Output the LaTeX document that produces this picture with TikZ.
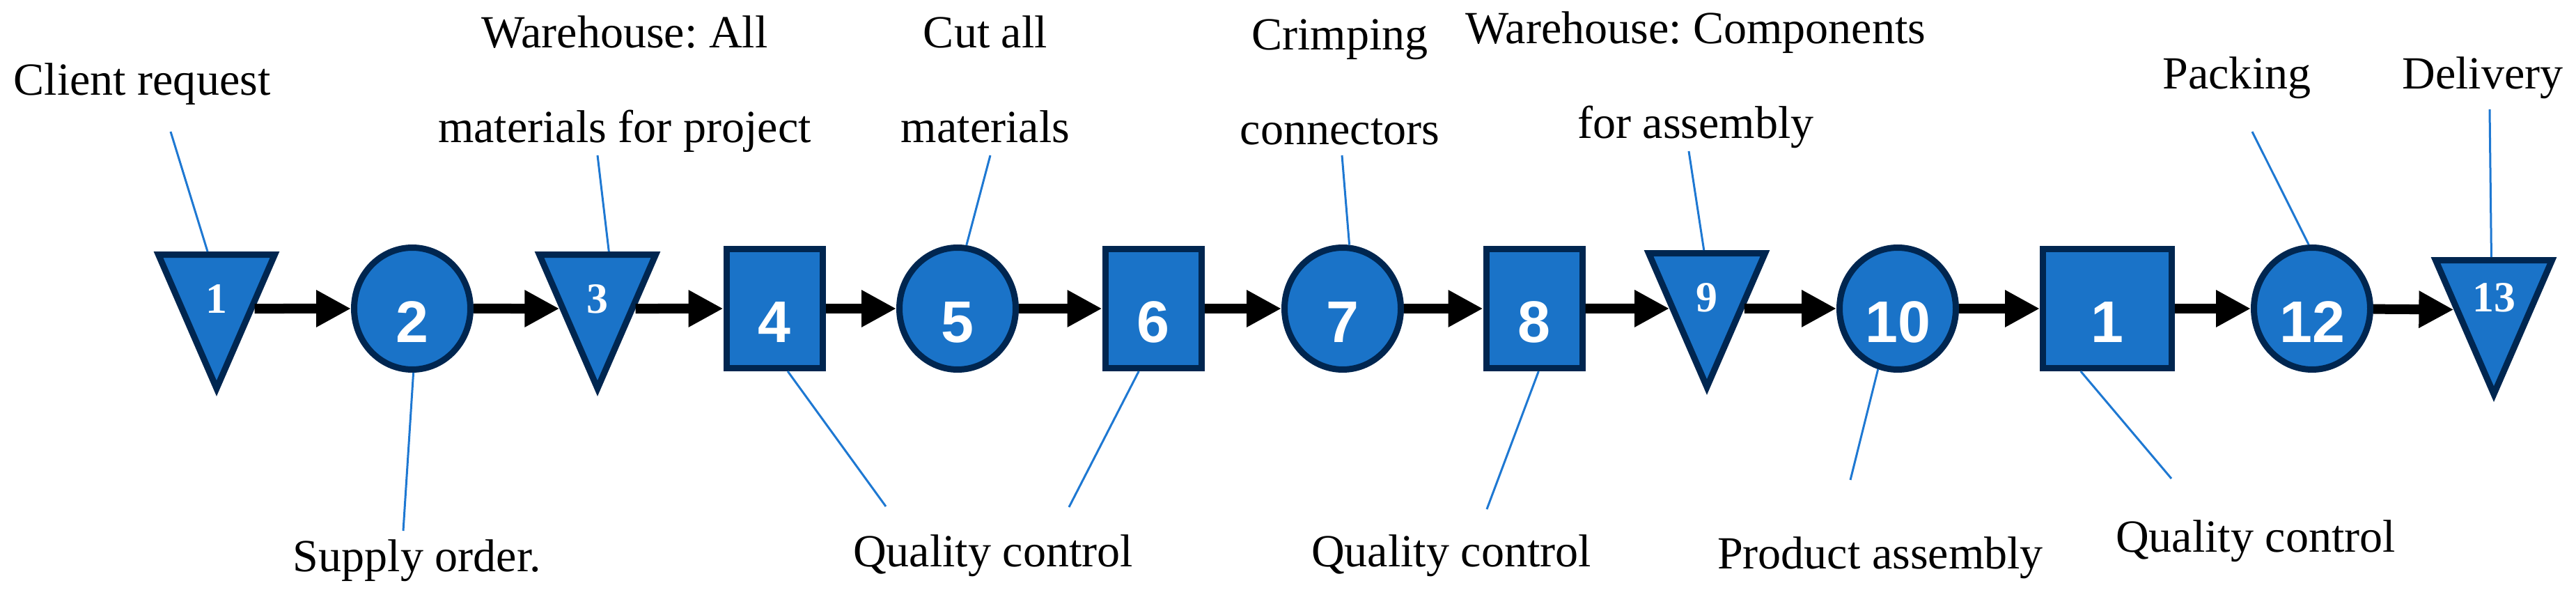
\documentclass[tikz,border=0pt]{standalone}
\usepackage{fontspec}
\setmainfont{Liberation Serif}
\newfontfamily\digitfont{Liberation Sans}
\frenchspacing
\usetikzlibrary{shapes.geometric,arrows.meta}
\definecolor{stepblue}{RGB}{26,115,200}
\definecolor{stepnavy}{RGB}{0,38,80}
\definecolor{calloutblue}{RGB}{30,120,210}
\begin{document}
\begin{tikzpicture}[
  stepbox/.style={draw=stepnavy, fill=stepblue, line width=0.09cm, text=white, inner sep=0pt},
  bignum/.style={font=\digitfont\bfseries\fontsize{24}{24}\selectfont, text height=0.98cm, text depth=0pt},
  opn/.style={stepbox, bignum, ellipse, minimum width=1.67cm, minimum height=1.75cm},
  insp/.style={stepbox, bignum, rectangle, minimum width=1.38cm, minimum height=1.71cm},
  store/.style={stepbox, isosceles triangle, shape border rotate=270, isosceles triangle apex angle=47,
    minimum height=1.92cm, font=\bfseries\fontsize{17.6}{17.6}\selectfont, text height=0.55cm, text depth=0pt},
  flow/.style={line width=0.14cm, -{Triangle[length=0.5cm,width=0.5cm]}},
  callout/.style={draw=calloutblue, line width=0.03cm},
  lbl/.style={font=\fontsize{18.8}{38.7}\selectfont, align=center, anchor=base, inner sep=0pt}
]
\useasboundingbox (0,0) rectangle (36.99,8.57);

% process steps
\node[store] (n1) at (3.11,4.35) {1};
\node[opn] (n2) at (5.92,4.14) {2};
\node[store] (n3) at (8.58,4.35) {3};
\node[insp] (n4) at (11.12,4.14) {4};
\node[opn] (n5) at (13.75,4.14) {5};
\node[insp] (n6) at (16.56,4.14) {6};
\node[opn] (n7) at (19.28,4.14) {7};
\node[insp] (n8) at (22.03,4.14) {8};
\node[store] (n9) at (24.51,4.37) {9};
\node[opn] (n10) at (27.25,4.14) {10};
\node[insp, minimum width=1.85cm] (n11) at (30.26,4.14) {1};
\node[opn] (n12) at (33.20,4.14) {12};
\node[store] (n13) at (35.81,4.37) {13};

\draw[flow] (n1.-21) -- (n2);
\draw[flow] (n2) -- (n3.201);
\draw[flow] (n3.-21) -- (n4);
\foreach \a/\b in {n4/n5,n5/n6,n6/n7,n7/n8}
  \draw[flow] (\a) -- (\b);
\draw[flow] (n8) -- (n9.203);
\draw[flow] (n9.-23) -- (n10);
\foreach \a/\b in {n10/n11,n11/n12}
  \draw[flow] (\a) -- (\b);
\draw[flow] (n12) -- (n13.203);

% labels above
\node[lbl] (l1) at (2.04,7.20) {Client request};
\node[lbl] (l3) at (8.97,6.52) {Warehouse: All\\materials for project};
\node[lbl] (l5) at (14.15,6.52) {Cut all\\materials};
\node[lbl] (l7) at (19.24,6.49) {Crimping\\connectors};
\node[lbl] (l9) at (24.35,6.58) {Warehouse: Components\\for assembly};
\node[lbl] (l12) at (32.12,7.29) {Packing};
\node[lbl] (l13) at (35.65,7.29) {Delivery};

% labels below
\node[lbl] (l2) at (5.99,0.37) {Supply order.};
\node[lbl] (l4) at (14.26,0.43) {Quality control};
\node[lbl] (l8) at (20.84,0.43) {Quality control};
\node[lbl] (l10) at (27.00,0.40) {Product assembly};
\node[lbl] (l11) at (32.39,0.65) {Quality control};

% callout ends
\coordinate (c1) at (2.45,6.68);
\coordinate (c3) at (8.58,6.34);
\coordinate (c5) at (14.22,6.34);
\coordinate (c7) at (19.27,6.34);
\coordinate (c9) at (24.25,6.40);
\coordinate (c12) at (32.34,6.68);
\coordinate (c13) at (35.75,7.00);
\coordinate (c2) at (5.79,0.95);
\coordinate (c4) at (12.72,1.30);
\coordinate (c6) at (15.35,1.29);
\coordinate (c8) at (21.35,1.26);
\coordinate (c10) at (26.57,1.68);
\coordinate (c11) at (31.18,1.70);

\draw[callout] (c1) -- (n1.102);
\draw[callout] (c3) -- (n3.75);
\draw[callout] (c5) -- (n5.82);
\draw[callout] (c7) -- (n7.84);
\draw[callout] (c9) -- (n9.94);
\draw[callout] (c12) -- (n12.93);
\draw[callout] (c13) -- (n13.94);
\draw[callout] (c2) -- (n2.-89);
\draw[callout] (c4) -- (n4.-78);
\draw[callout] (c6) -- (n6.-103);
\draw[callout] (c8) -- (n8.-86);
\draw[callout] (c10) -- (n10.-108);
\draw[callout] (c11) -- (n11.-113);
\end{tikzpicture}
\end{document}
